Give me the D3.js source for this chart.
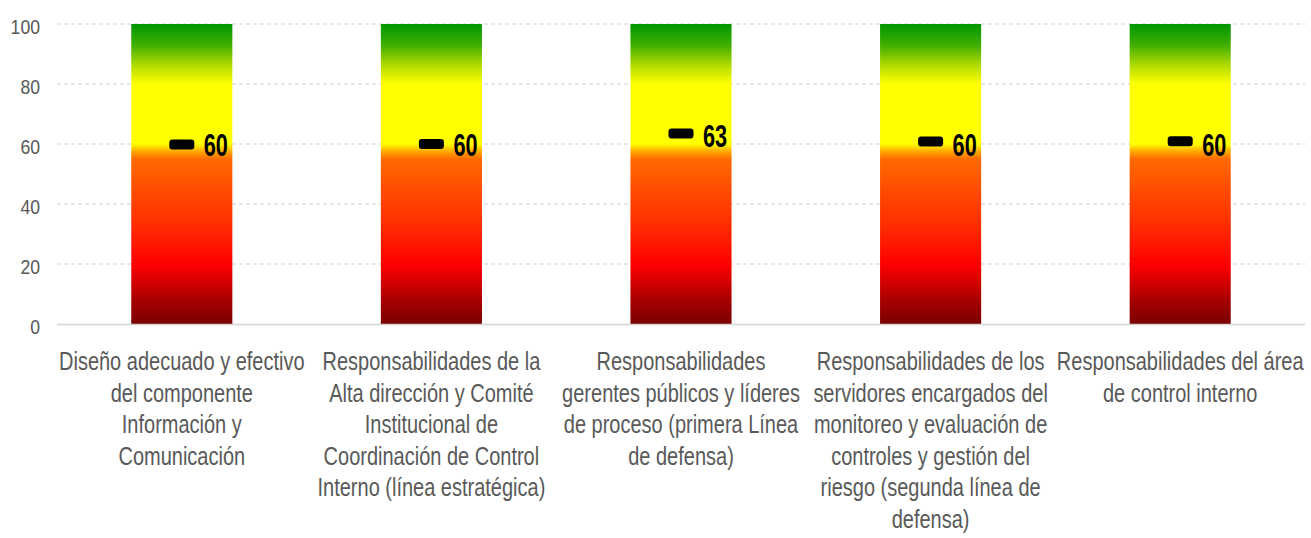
<html lang="es">
<head>
  <meta charset="UTF-8">
  <title>Componente Información y Comunicación</title>
  <script src="https://d3js.org/d3.v7.min.js"></script>
  <style>
    body { margin: 0; background: #fff; font-family: "Liberation Sans", Arial, sans-serif; }
  </style>
</head>
<body>
<div id="chart"></div>
<script>

// data
const categories = [
  ["Diseño adecuado y efectivo", "del componente", "Información y", "Comunicación"],
  ["Responsabilidades de la", "Alta dirección y Comité", "Institucional de", "Coordinación de Control", "Interno (línea estratégica)"],
  ["Responsabilidades", "gerentes públicos y líderes", "de proceso (primera Línea", "de defensa)"],
  ["Responsabilidades de los", "servidores encargados del", "monitoreo y evaluación de", "controles y gestión del", "riesgo (segunda línea de", "defensa)"],
  ["Responsabilidades del área", "de control interno"]
];
const values = [59.8, 60, 63.5, 60.8, 60.9];
const valueLabels = ["60", "60", "63", "60", "60"];
const labelPos = [60, 60, 63, 60, 60];
const yTicks = [0, 20, 40, 60, 80, 100];
const maxScale = 100;

const width = 1311, height = 538;

const svg = d3.select("#chart")
  .append("svg")
  .attr("width", width)
  .attr("height", height);

const x_scale = d3.scaleBand()
  .domain(d3.range(categories.length))
  .range([57, 1305])
  .paddingInner(0.595)
  .paddingOuter(0.2975);

const y_scale = d3.scaleLinear()
  .domain([0, 100])
  .range([324, 24]);

// gradient red -> orange -> yellow -> green
const grad = svg.append("defs").append("linearGradient")
  .attr("id", "semaforo")
  .attr("x1", 0).attr("y1", 1)
  .attr("x2", 0).attr("y2", 0);

[
  [0, "#7a0000"], [0.08, "#a80000"], [0.2, "#ff0000"], [0.32, "#ff2a00"],
  [0.45, "#ff4d00"], [0.55, "#ff6a00"], [0.575, "#ffa800"], [0.6, "#ffff00"],
  [0.8, "#ffff00"], [0.86, "#b4dc00"], [0.93, "#40ae00"], [1, "#009600"]
].forEach(function (s) {
  grad.append("stop").attr("offset", s[0]).attr("stop-color", s[1]);
});

// gridlines
svg.append("g")
  .selectAll("line")
  .data(yTicks.filter(d => d > 0))
  .enter()
  .append("line")
    .attr("x1", 57).attr("x2", 1305)
    .attr("y1", d => y_scale(d)).attr("y2", d => y_scale(d))
    .attr("stroke", "#dedede")
    .attr("stroke-width", 1.3)
    .attr("stroke-dasharray", "4,3");

// bars (full scale)
svg.append("g")
  .selectAll("rect")
  .data(values)
  .enter()
  .append("rect")
    .attr("x", (d, i) => x_scale(i))
    .attr("y", y_scale(maxScale))
    .attr("width", x_scale.bandwidth())
    .attr("height", y_scale(0) - y_scale(maxScale))
    .attr("fill", "url(#semaforo)");

// baseline
svg.append("line")
  .attr("x1", 57).attr("x2", 1305)
  .attr("y1", y_scale(0) + 0.5).attr("y2", y_scale(0) + 0.5)
  .attr("stroke", "#d4d4d4")
  .attr("stroke-width", 1.6);

// y axis
const y_axis = d3.axisLeft(y_scale)
  .tickValues(yTicks)
  .tickSize(0)
  .tickPadding(0);

const gy = svg.append("g")
  .attr("transform", "translate(40,0)")
  .call(y_axis);
gy.select(".domain").remove();
gy.selectAll("text")
  .attr("x", 0)
  .attr("dy", "0.45em")
  .attr("transform", "scale(0.84,1)")
  .style("font-family", "'Liberation Sans', Arial, sans-serif")
  .style("font-size", "21px")
  .style("fill", "#595959");

// markers
svg.append("g")
  .selectAll("rect")
  .data(values)
  .enter()
  .append("rect")
    .attr("x", (d, i) => x_scale(i) + x_scale.bandwidth() / 2 - 12.5)
    .attr("y", d => y_scale(d) - 5)
    .attr("width", 25)
    .attr("height", 10)
    .attr("rx", 3)
    .attr("fill", "#000");

// value labels
svg.append("g")
  .selectAll("text")
  .data(valueLabels)
  .enter()
  .append("text")
    .attr("transform", (d, i) => `translate(${x_scale(i) + x_scale.bandwidth() / 2 + 22},${y_scale(labelPos[i]) + 12}) scale(0.7,1)`)
    .style("font-size", "31px")
    .style("font-weight", "bold")
    .style("fill", "#000")
    .text(d => d);

// category labels
const cat = svg.append("g")
  .selectAll("g")
  .data(categories)
  .enter()
  .append("g")
    .attr("transform", (d, i) => `translate(${x_scale(i) + x_scale.bandwidth() / 2},370)`);

cat.selectAll("text")
  .data(d => d)
  .enter()
  .append("text")
    .attr("transform", (d, j) => `translate(0,${j * 31.6}) scale(0.8,1)`)
    .attr("text-anchor", "middle")
    .style("font-size", "25px")
    .style("fill", "#595959")
    .text(d => d);

</script>
</body>
</html>
